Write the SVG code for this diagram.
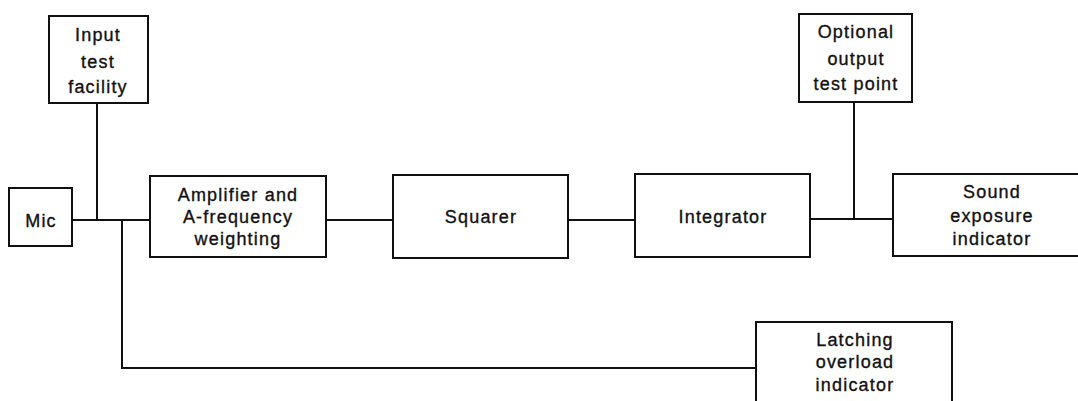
<svg xmlns="http://www.w3.org/2000/svg" width="1078" height="401" viewBox="0 0 1078 401">
<style>
.box{fill:#fff;stroke:#111;stroke-width:2}
.ln{fill:none;stroke:#111;stroke-width:2}
text{font-family:"Liberation Sans",Arial,sans-serif;font-size:18px;letter-spacing:1.2px;fill:#111;stroke:#111;stroke-width:0.35;text-anchor:middle}
</style>
<rect width="1078" height="401" fill="#fff"/>
<g id="connectors">
<path class="ln" d="M72 220H150"/>
<path class="ln" d="M97 103V220"/>
<path class="ln" d="M122 220V368H756"/>
<path class="ln" d="M326 220H393"/>
<path class="ln" d="M568 220H635"/>
<path class="ln" d="M810 219H893"/>
<path class="ln" d="M854 102V219"/>
</g>
<g id="input">
<rect class="box" x="49" y="16" width="99" height="87"/>
<text x="98" y="41">Input</text>
<text x="98" y="68">test</text>
<text x="98" y="93">facility</text>
</g>
<g id="mic">
<rect class="box" x="9" y="188" width="63" height="58"/>
<text x="41" y="227">Mic</text>
</g>
<g id="amplifier">
<rect class="box" x="150" y="176" width="176" height="81"/>
<text x="238" y="201">Amplifier and</text>
<text x="238" y="223">A-frequency</text>
<text x="238" y="245">weighting</text>
</g>
<g id="squarer">
<rect class="box" x="393" y="175" width="175" height="83"/>
<text x="481" y="223">Squarer</text>
</g>
<g id="integrator">
<rect class="box" x="635" y="174" width="175" height="83"/>
<text x="723" y="223">Integrator</text>
</g>
<g id="output-test">
<rect class="box" x="799" y="14" width="113" height="88"/>
<text x="856" y="38">Optional</text>
<text x="856" y="65">output</text>
<text x="856" y="90">test point</text>
</g>
<g id="sound-exposure">
<rect class="box" x="893" y="174" width="200" height="82"/>
<text x="992" y="198">Sound</text>
<text x="992" y="222">exposure</text>
<text x="992" y="245">indicator</text>
</g>
<g id="latching">
<rect class="box" x="756" y="322" width="196" height="100"/>
<text x="855" y="346">Latching</text>
<text x="855" y="368">overload</text>
<text x="855" y="391">indicator</text>
</g>
</svg>
